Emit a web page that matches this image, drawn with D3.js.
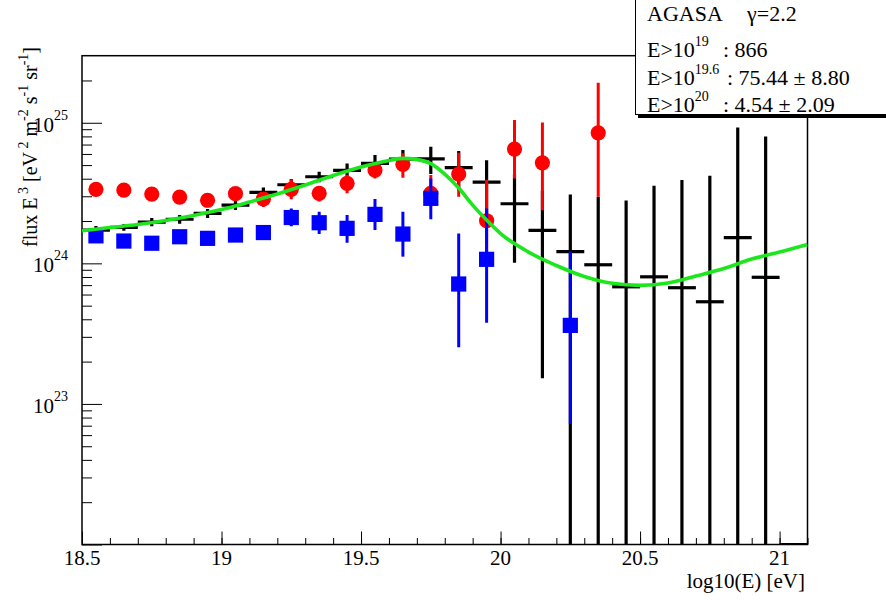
<!DOCTYPE html>
<html><head><meta charset="utf-8">
<script src="https://cdn.jsdelivr.net/npm/d3@7"></script>
<style>body{margin:0;background:#fff}svg{display:block}text{font-family:"Liberation Serif","Times New Roman",serif;fill:#000}</style>
</head><body><svg id="c" width="886" height="601" font-family="Liberation Serif, serif"></svg>
<script>
// ---- data ----
const binCenters = [18.55,18.65,18.75,18.85,18.95,19.05,19.15,19.25,19.35,19.45,19.55,19.65,19.75,19.85,19.95,20.05,20.15,20.25,20.35,20.45,20.55,20.65,20.75,20.85,20.95,21.05];
const binWidth = 0.1;
const blackFlux = [1.725e24,1.803e24,1.967e24,2.059e24,2.268e24,2.598e24,3.199e24,3.622e24,4.130e24,4.586e24,5.143e24,5.518e24,5.536e24,4.80e24,3.787e24,2.654e24,1.717e24,1.213e24,9.77e23,6.81e23,8.02e23,6.71e23,5.33e23,1.526e24,7.96e23,0];
const blackErr  = [0.117e24,0.10e24,0.133e24,0.147e24,0.166e24,0.20e24,0.26e24,0.356e24,0.352e24,0.54e24,0.75e24,0.876e24,1.21e24,1.49e24,1.62e24,1.644e24,1.565e24,1.88e24,2.0e24,2.12e24,2.76e24,3.24e24,3.66e24,7.74e24,7.2e24,0];
const redFlux    = [3.36e24,3.32e24,3.11e24,2.96e24,2.81e24,3.13e24,2.87e24,3.36e24,3.15e24,3.71e24,4.61e24,5.06e24,3.15e24,4.32e24,2.01e24,6.50e24,5.19e24,null,8.49e24];
const redErrUp   = [0.3e24,0.3e24,0.3e24,0.3e24,0.3e24,0.3e24,0.35e24,0.6e24,0.4e24,0.56e24,0.53e24,1.0e24,1.1e24,1.8e24,1.9e24,3.95e24,4.87e24,null,10.8e24];
const redErrDown = [0.3e24,0.3e24,0.3e24,0.3e24,0.3e24,0.3e24,0.35e24,0.5e24,0.4e24,0.56e24,0.6e24,1.0e24,0.6e24,1.34e24,0.98e24,2.48e24,2.8e24,null,5.51e24];
const blueFlux    = [1.569e24,1.441e24,1.390e24,1.546e24,1.506e24,1.590e24,1.656e24,2.118e24,1.945e24,1.774e24,2.23e24,1.616e24,2.90e24,7.13e23,1.068e24,null,null,3.62e23];
const blueErrUp   = [0.12e24,0.12e24,0.12e24,0.12e24,0.12e24,0.12e24,0.15e24,0.34e24,0.385e24,0.43e24,0.64e24,0.71e24,1.12e24,0.92e24,1.39e24,null,null,0.85e24];
const blueErrDown = [0.12e24,0.12e24,0.12e24,0.12e24,0.12e24,0.12e24,0.15e24,0.28e24,0.33e24,0.37e24,0.50e24,0.50e24,0.84e24,0.46e24,0.69e24,null,null,0.29e24];
const fitE    = [18.5,18.6,18.7,18.8,18.9,19.0,19.1,19.2,19.3,19.4,19.5,19.6,19.65,19.7,19.75,19.8,19.85,19.9,19.95,20.0,20.1,20.2,20.3,20.4,20.5,20.6,20.7,20.8,20.9,21.0,21.1];
const fitFlux = [1.706e24,1.797e24,1.888e24,2.016e24,2.188e24,2.413e24,2.729e24,3.111e24,3.605e24,4.213e24,4.84e24,5.385e24,5.582e24,5.473e24,5.127e24,4.317e24,3.432e24,2.598e24,2.032e24,1.629e24,1.203e24,9.65e23,8.06e23,7.21e23,6.97e23,7.24e23,8.12e23,9.18e23,1.073e24,1.203e24,1.361e24];
const xTicksMajor = [18.5,19,19.5,20,20.5,21];
const xTickLabels = ["18.5","19","19.5","20","20.5","21"];
const yDecades = [23,24,25];
const statsLines = [
  {a:"AGASA", b:"\u03b3=2.2", sup:null},
  {a:"E>10", sup:"19", b:": 866"},
  {a:"E>10", sup:"19.6", b:": 75.44 \u00b1 8.80"},
  {a:"E>10", sup:"20", b:": 4.54 \u00b1 2.09"}
];

// ---- scales ----
const FONT = "Liberation Serif, Times New Roman, serif";
const L=82, R=807.5, T=55.7, B=544.5;
const x = d3.scaleLinear().domain([18.5,21.1]).range([L,R]);
const y = d3.scaleLog().domain([1e22,3e25]).range([B,T]);
const yc = v => (v<=1e22 ? B : Math.max(T, y(v)));

const svg = d3.select("#c");
svg.append("rect").attr("width",886).attr("height",601).attr("fill","#fff");
svg.append("defs").append("clipPath").attr("id","clip").append("rect")
  .attr("x",L).attr("y",T).attr("width",R-L).attr("height",B-T);
const txt = (sel)=>sel.append("text").attr("font-family",FONT).attr("fill","#000");

// axes ticks
const xMinor = d3.range(18.5,21.1001,0.1).map(v=>+v.toFixed(2));
svg.append("g").attr("transform",`translate(0,${B})`)
  .call(d3.axisTop(x).tickValues(xMinor).tickSize(6.5).tickFormat(""))
  .call(g=>g.select(".domain").remove())
  .call(g=>g.selectAll("line").attr("stroke","#000").attr("stroke-width",1));
svg.append("g").attr("transform",`translate(0,${B})`)
  .call(d3.axisTop(x).tickValues(xTicksMajor).tickSize(13).tickFormat(""))
  .call(g=>g.select(".domain").remove())
  .call(g=>g.selectAll("line").attr("stroke","#000").attr("stroke-width",1));
xTicksMajor.forEach((v,i)=>{
  txt(svg).attr("x",x(v)).attr("y",565).attr("text-anchor","middle")
    .attr("font-size",21).text(xTickLabels[i]);
});
txt(svg).attr("x",805).attr("y",588).attr("text-anchor","end")
  .attr("font-size",21).text("log10(E) [eV]");

const yMinor=[], yMajor=[];
for (let d=22; d<=25; d++) for (let k=1;k<=9;k++){ const v=k*Math.pow(10,d); if (v<=3e25){ (k===1?yMajor:yMinor).push(v);} }
svg.append("g").attr("transform",`translate(${L},0)`)
  .call(d3.axisRight(y).tickValues(yMinor).tickSize(10).tickFormat(""))
  .call(g=>g.select(".domain").remove())
  .call(g=>g.selectAll("line").attr("stroke","#000").attr("stroke-width",1));
svg.append("g").attr("transform",`translate(${L},0)`)
  .call(d3.axisRight(y).tickValues(yMajor).tickSize(20).tickFormat(""))
  .call(g=>g.select(".domain").remove())
  .call(g=>g.selectAll("line").attr("stroke","#000").attr("stroke-width",1));
yDecades.forEach(d=>{
  const t = txt(svg).attr("x",68).attr("y",y(Math.pow(10,d))+9).attr("text-anchor","end").attr("font-size",21);
  t.append("tspan").text("10");
  t.append("tspan").attr("font-size",14).attr("dy",-12).text(String(d));
});
// y title
const yt = txt(svg).attr("transform","translate(37,47) rotate(-90)").attr("text-anchor","end").attr("font-size",20).attr("xml:space","preserve");
[["flux E",0],[" 3",1],[" [eV",0],[" 2",1],[" m",0],["-2",1],[" s",0],["-1",1],[" sr",0],["-1",1],["]",0]].reduce((prev,[s,sup])=>{
  const dy = sup ? (prev?0:-9) : (prev?9:0);
  yt.append("tspan").attr("font-size",sup?14:20).attr("dy",dy).text(s);
  return sup;
},0);

// frame
svg.append("rect").attr("x",L).attr("y",T).attr("width",R-L).attr("height",B-T)
  .attr("fill","none").attr("stroke","#000").attr("stroke-width",1.5);

const plot = svg.append("g").attr("clip-path","url(#clip)");

// black histogram with errors
binCenters.forEach((c,i)=>{
  const v=blackFlux[i], e=blackErr[i];
  plot.append("line").attr("x1",x(c-binWidth/2)).attr("x2",x(c+binWidth/2))
    .attr("y1",yc(v)).attr("y2",yc(v)).attr("stroke","#000").attr("stroke-width",3.2);
  if (e>0) plot.append("line").attr("x1",x(c)).attr("x2",x(c))
    .attr("y1",yc(v+e)).attr("y2",yc(v-e)).attr("stroke","#000").attr("stroke-width",3.2);
});
// red graph
redFlux.forEach((v,i)=>{
  if (v==null) return;
  const c=binCenters[i];
  plot.append("line").attr("x1",x(c)).attr("x2",x(c))
    .attr("y1",yc(v+redErrUp[i])).attr("y2",yc(v-redErrDown[i])).attr("stroke","#ff0000").attr("stroke-width",3);
  plot.append("circle").attr("cx",x(c)).attr("cy",y(v)).attr("r",7.6).attr("fill","#ff0000");
});
// blue graph
blueFlux.forEach((v,i)=>{
  if (v==null) return;
  const c=binCenters[i];
  plot.append("line").attr("x1",x(c)).attr("x2",x(c))
    .attr("y1",yc(v+blueErrUp[i])).attr("y2",yc(v-blueErrDown[i])).attr("stroke","#0000ff").attr("stroke-width",3);
  plot.append("rect").attr("x",x(c)-7.6).attr("y",y(v)-7.6).attr("width",15.2).attr("height",15.2).attr("fill","#0000ff");
});
// fit curve
plot.append("path").datum(fitE.map((e,i)=>[e,fitFlux[i]]))
  .attr("d",d3.line().x(d=>x(d[0])).y(d=>y(d[1])).curve(d3.curveMonotoneX))
  .attr("fill","none").attr("stroke","#1ee61e").attr("stroke-width",3.6);

// stats box
svg.append("rect").attr("x",638).attr("y",3).attr("width",260).attr("height",115).attr("fill","#000");
svg.append("rect").attr("x",635.5).attr("y",-1).attr("width",260).attr("height",115.5).attr("fill","#fff").attr("stroke","#000").attr("stroke-width",1);
const rowY=[21,56.5,85,111.5];
statsLines.forEach((r,i)=>{
  const t = txt(svg).attr("x",647).attr("y",rowY[i]).attr("font-size",22);
  t.append("tspan").text(r.a);
  if (r.sup) t.append("tspan").attr("font-size",14).attr("dy",-11).text(r.sup);
  txt(svg).attr("x", i===0?747:(i===2?727:723)).attr("y",rowY[i]).attr("font-size",22).text(r.b);
});
</script></body></html>
